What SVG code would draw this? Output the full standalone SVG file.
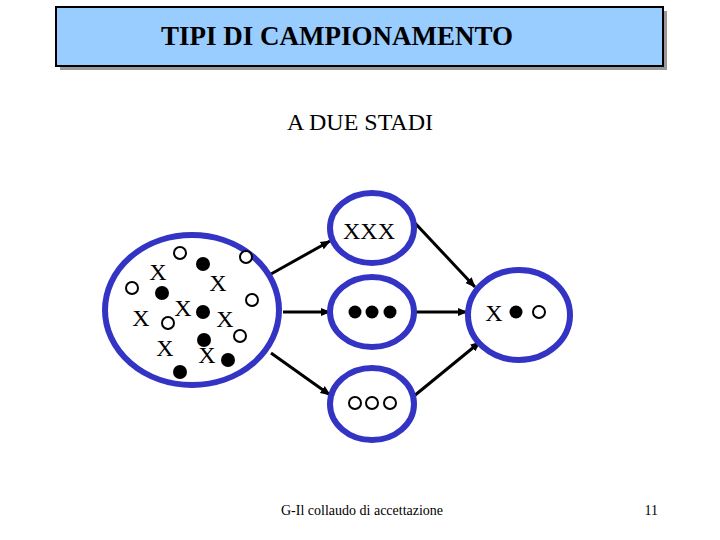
<svg xmlns="http://www.w3.org/2000/svg" width="720" height="540" viewBox="0 0 720 540">
<style>
.t{font-family:"Liberation Serif","Times New Roman",serif;fill:#000}
.ring{fill:#fff;stroke:#3434c4;stroke-width:6}
.o{fill:#fff;stroke:#000;stroke-width:2}
.f{fill:#000}
.x{font-family:"Liberation Serif","Times New Roman",serif;font-size:24px;text-anchor:middle}
.a{stroke:#000;stroke-width:3;fill:none;marker-end:url(#ah)}
</style>
<defs>
<marker id="ah" viewBox="0 0 10 10" refX="9" refY="5" markerWidth="3.5" markerHeight="3.5" orient="auto" markerUnits="strokeWidth">
<path d="M0,1 L10,5 L0,9 z" fill="#000"/>
</marker>
</defs>
<rect width="720" height="540" fill="#fff"/>
<g id="title">
<rect x="60" y="11" width="607" height="59" fill="#999"/>
<rect x="56" y="7" width="607" height="59" fill="#99ccff" stroke="#000" stroke-width="2"/>
<text class="t" x="337" y="45" font-size="27" font-weight="bold" text-anchor="middle">TIPI DI CAMPIONAMENTO</text>
</g>
<text id="subtitle" class="t" x="360" y="130" font-size="24" text-anchor="middle">A DUE STADI</text>
<g id="connectors">
<line class="a" x1="271" y1="274" x2="330" y2="241"/>
<line class="a" x1="283" y1="312" x2="330" y2="312"/>
<line class="a" x1="271" y1="353" x2="330" y2="395"/>
<line class="a" x1="414" y1="222" x2="475" y2="287"/>
<line class="a" x1="416" y1="312" x2="467" y2="312"/>
<line class="a" x1="414" y1="396" x2="480" y2="342"/>
</g>
<g id="population">
<ellipse class="ring" cx="192" cy="310" rx="87" ry="75"/>
<circle class="o" cx="180" cy="253" r="6"/>
<circle class="f" cx="203" cy="264" r="7"/>
<circle class="o" cx="246" cy="257" r="6"/>
<circle class="o" cx="132" cy="288" r="6"/>
<circle class="f" cx="162" cy="293" r="7"/>
<circle class="o" cx="252" cy="300" r="6"/>
<circle class="f" cx="203" cy="312" r="7"/>
<circle class="o" cx="168" cy="323" r="6"/>
<circle class="o" cx="240" cy="336" r="6"/>
<circle class="f" cx="204" cy="340" r="7"/>
<circle class="f" cx="228" cy="360" r="7"/>
<circle class="f" cx="180" cy="372" r="7"/>
<text class="x" x="158" y="280">X</text>
<text class="x" x="218" y="291">X</text>
<text class="x" x="183" y="316">X</text>
<text class="x" x="141" y="326">X</text>
<text class="x" x="225" y="327">X</text>
<text class="x" x="165" y="356">X</text>
<text class="x" x="207" y="363">X</text>
</g>
<g id="cluster-x">
<ellipse class="ring" cx="372" cy="228" rx="42" ry="35"/>
<text class="x" x="369" y="239">XXX</text>
</g>
<g id="cluster-filled">
<ellipse class="ring" cx="372" cy="312" rx="42" ry="35"/>
<circle class="f" cx="355" cy="312" r="6.5"/>
<circle class="f" cx="372" cy="312" r="6.5"/>
<circle class="f" cx="390" cy="312" r="6.5"/>
</g>
<g id="cluster-open">
<ellipse class="ring" cx="372" cy="404" rx="42" ry="36"/>
<circle class="o" cx="355" cy="403" r="6"/>
<circle class="o" cx="372" cy="403" r="6"/>
<circle class="o" cx="390" cy="403" r="6"/>
</g>
<g id="sample">
<ellipse class="ring" cx="519" cy="315" rx="51" ry="45"/>
<text class="x" x="494" y="321">X</text>
<circle class="f" cx="516" cy="312" r="6.5"/>
<circle class="o" cx="539" cy="312" r="6"/>
</g>
<text id="footer" class="t" x="281" y="515" font-size="14">G-Il collaudo di accettazione</text>
<text id="page" class="t" x="658" y="515" font-size="14" text-anchor="end">11</text>
</svg>
